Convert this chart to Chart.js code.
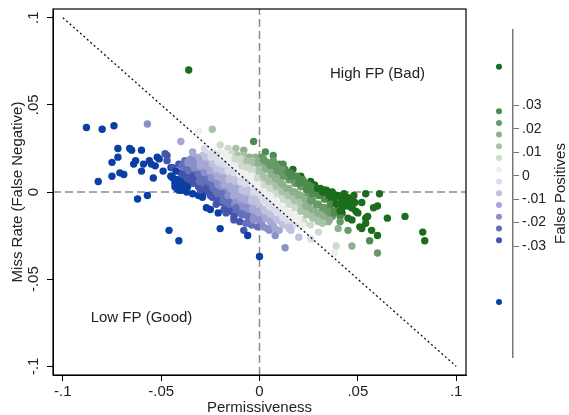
<!DOCTYPE html>
<html>
<head>
<meta charset="utf-8">
<script src="https://cdn.jsdelivr.net/npm/chart.js@4.4.1/dist/chart.umd.min.js"></script>
<style>
  body { margin: 0; background: #fff; }
  #wrap { position: relative; width: 569px; height: 415px; }
  #scatterChart { position: absolute; left: 0; top: 0; }
  #fpLegend { position: absolute; left: 470px; top: 0; }
</style>
</head>
<body>
<div id="wrap">
  <canvas id="scatterChart" width="470" height="415"></canvas>
  <canvas id="fpLegend" width="99" height="415"></canvas>
</div>
<script>
// each observation: [permissiveness, miss rate]
const obs = [
  // left tail
  [-0.088, 0.037], [-0.080, 0.036], [-0.074, 0.038], [-0.072, 0.025], [-0.066, 0.025], [-0.065, 0.024],
  [-0.060, 0.024], [-0.072, 0.020], [-0.075, 0.017], [-0.063, 0.018], [-0.064, 0.016], [-0.059, 0.016],
  [-0.056, 0.018], [-0.052, 0.020], [-0.051, 0.019], [-0.048, 0.022], [-0.047, 0.021], [-0.053, 0.015],
  [-0.055, 0.016], [-0.049, 0.012], [-0.060, 0.012], [-0.071, 0.011], [-0.069, 0.010], [-0.075, 0.009],
  [-0.054, 0.008], [-0.082, 0.006], [-0.045, 0.009], [-0.044, 0.008], [-0.043, 0.007], [-0.039, 0.005],
  [-0.042, 0.002], [-0.041, 0.001], [-0.034, -0.001], [-0.031, -0.002], [-0.062, -0.004], [-0.057, -0.002],
  [-0.046, -0.022], [-0.041, -0.028], [-0.047, 0.018], [-0.045, 0.014],
  // upper scatter
  [-0.024, 0.036], [-0.031, 0.035], [-0.040, 0.029], [-0.057, 0.039], [-0.003, 0.029], [-0.008, 0.024],
  [-0.020, 0.027], [-0.016, 0.025], [-0.012, 0.025], [-0.028, 0.025], [-0.034, 0.023], [0.003, 0.023],
  [0.007, 0.021], [0.012, 0.016], [0.017, 0.013], [0.026, 0.006], [0.021, 0.009], [-0.036, 0.070],
  // main band, left half
  [-0.044, 0.014], [-0.045, 0.009], [-0.043, 0.005],
  [-0.041, 0.016], [-0.040, 0.011], [-0.042, 0.007], [-0.041, 0.003],
  [-0.038, 0.018], [-0.037, 0.013], [-0.039, 0.009], [-0.038, 0.004], [-0.037, 0.000],
  [-0.035, 0.019], [-0.034, 0.015], [-0.036, 0.010], [-0.035, 0.006],
  [-0.032, 0.020], [-0.031, 0.016], [-0.033, 0.012], [-0.032, 0.007], [-0.031, 0.003],
  [-0.029, 0.021], [-0.028, 0.017], [-0.030, 0.013], [-0.029, 0.008], [-0.028, 0.004], [-0.029, -0.001],
  [-0.026, 0.022], [-0.025, 0.018], [-0.027, 0.014], [-0.026, 0.009], [-0.025, 0.005], [-0.026, 0.000],
  [-0.023, 0.022], [-0.022, 0.018], [-0.024, 0.014], [-0.023, 0.010], [-0.022, 0.006], [-0.023, 0.001], [-0.024, -0.003], [-0.022, -0.007],
  [-0.020, 0.023], [-0.019, 0.019], [-0.021, 0.015], [-0.020, 0.011], [-0.019, 0.007], [-0.020, 0.002], [-0.021, -0.002], [-0.019, -0.006],
  [-0.017, 0.022], [-0.016, 0.018], [-0.018, 0.014], [-0.017, 0.010], [-0.016, 0.006], [-0.017, 0.001], [-0.018, -0.003], [-0.016, -0.008],
  [-0.014, 0.022], [-0.013, 0.018], [-0.015, 0.014], [-0.014, 0.009], [-0.013, 0.005], [-0.014, 0.000], [-0.015, -0.004], [-0.013, -0.009],
  [-0.011, 0.021], [-0.010, 0.017], [-0.012, 0.013], [-0.011, 0.009], [-0.010, 0.004], [-0.011, 0.000], [-0.012, -0.005], [-0.010, -0.010],
  [-0.008, 0.021], [-0.007, 0.017], [-0.009, 0.012], [-0.008, 0.008], [-0.007, 0.003], [-0.008, -0.001], [-0.009, -0.006], [-0.007, -0.011],
  [-0.005, 0.020], [-0.004, 0.016], [-0.006, 0.012], [-0.005, 0.007], [-0.004, 0.003], [-0.005, -0.002], [-0.006, -0.007], [-0.004, -0.012],
  [-0.002, 0.020], [-0.001, 0.016], [-0.003, 0.011], [-0.002, 0.007], [-0.001, 0.002], [-0.002, -0.003], [-0.003, -0.008], [-0.001, -0.013],
  // main band, right half
  [0.001, 0.020], [0.002, 0.015], [0.000, 0.011], [0.001, 0.006], [0.002, 0.002], [0.001, -0.003], [0.000, -0.008], [0.002, -0.013], [0.001, -0.018],
  [0.004, 0.017], [0.005, 0.013], [0.003, 0.008], [0.004, 0.004], [0.005, -0.001], [0.004, -0.006], [0.003, -0.011], [0.005, -0.016],
  [0.007, 0.018], [0.008, 0.014], [0.006, 0.010], [0.007, 0.005], [0.008, 0.001], [0.007, -0.004], [0.006, -0.009], [0.008, -0.014], [0.007, -0.019],
  [0.010, 0.016], [0.011, 0.011], [0.009, 0.007], [0.010, 0.002], [0.011, -0.002], [0.010, -0.007], [0.009, -0.012], [0.011, -0.017],
  [0.013, 0.013], [0.014, 0.009], [0.012, 0.004], [0.013, 0.000], [0.014, -0.005], [0.013, -0.010], [0.012, -0.015],
  [0.016, 0.011], [0.017, 0.007], [0.015, 0.002], [0.016, -0.002], [0.017, -0.007], [0.016, -0.012], [0.015, -0.017],
  [0.019, 0.009], [0.020, 0.005], [0.018, 0.000], [0.019, -0.004], [0.020, -0.009], [0.019, -0.014],
  [0.022, 0.007], [0.023, 0.003], [0.021, -0.002], [0.022, -0.006], [0.023, -0.011], [0.022, -0.016],
  [0.025, 0.004], [0.026, 0.001], [0.024, -0.003], [0.025, -0.008], [0.026, -0.013],
  [0.028, 0.004], [0.029, 0.000], [0.027, -0.005], [0.028, -0.010], [0.029, -0.015],
  [0.031, 0.002], [0.032, -0.002], [0.030, -0.007], [0.031, -0.012],
  [0.034, 0.001], [0.035, -0.004], [0.033, -0.009], [0.034, -0.013],
  [0.037, 0.000], [0.038, -0.005], [0.036, -0.010], [0.037, -0.014],
  [0.040, -0.002], [0.041, -0.007], [0.039, -0.011],
  [0.043, -0.001], [0.044, -0.006], [0.042, -0.012],
  [0.046, -0.004], [0.047, -0.009],
  // main band, in-between points
  [-0.0425, 0.012], [-0.0420, 0.007], [-0.0430, 0.003],
  [-0.0395, 0.015], [-0.0390, 0.010], [-0.0400, 0.006], [-0.0395, 0.001],
  [-0.0365, 0.017], [-0.0360, 0.012], [-0.0370, 0.008], [-0.0365, 0.003],
  [-0.0335, 0.018], [-0.0330, 0.014], [-0.0340, 0.009], [-0.0335, 0.005],
  [-0.0305, 0.019], [-0.0300, 0.015], [-0.0310, 0.010], [-0.0305, 0.006], [-0.0300, 0.001],
  [-0.0275, 0.020], [-0.0270, 0.016], [-0.0280, 0.011], [-0.0275, 0.007], [-0.0270, 0.002],
  [-0.0245, 0.020], [-0.0240, 0.016], [-0.0250, 0.012], [-0.0245, 0.008], [-0.0240, 0.003], [-0.0250, -0.002],
  [-0.0215, 0.021], [-0.0210, 0.017], [-0.0220, 0.013], [-0.0215, 0.009], [-0.0210, 0.004], [-0.0220, 0.000], [-0.0215, -0.005],
  [-0.0185, 0.020], [-0.0180, 0.016], [-0.0190, 0.012], [-0.0185, 0.008], [-0.0180, 0.004], [-0.0190, -0.001], [-0.0185, -0.005], [-0.0180, -0.010],
  [-0.0155, 0.020], [-0.0150, 0.016], [-0.0160, 0.012], [-0.0155, 0.007], [-0.0150, 0.003], [-0.0160, -0.002], [-0.0155, -0.006], [-0.0150, -0.011],
  [-0.0125, 0.019], [-0.0120, 0.015], [-0.0130, 0.011], [-0.0125, 0.007], [-0.0120, 0.002], [-0.0130, -0.002], [-0.0125, -0.007], [-0.0120, -0.012], [-0.0130, -0.016],
  [-0.0095, 0.019], [-0.0090, 0.015], [-0.0100, 0.010], [-0.0095, 0.006], [-0.0090, 0.001], [-0.0100, -0.003], [-0.0095, -0.008], [-0.0090, -0.013], [-0.0100, -0.017],
  [-0.0065, 0.018], [-0.0060, 0.014], [-0.0070, 0.010], [-0.0065, 0.005], [-0.0060, 0.001], [-0.0070, -0.004], [-0.0065, -0.009], [-0.0060, -0.014], [-0.0070, -0.018],
  [-0.0035, 0.018], [-0.0030, 0.013], [-0.0040, 0.009], [-0.0035, 0.005], [-0.0030, 0.000], [-0.0040, -0.005], [-0.0035, -0.010], [-0.0030, -0.015], [-0.0040, -0.019],
  [-0.0005, 0.018], [0.0000, 0.013], [-0.0010, 0.008], [-0.0005, 0.004], [0.0000, -0.001], [-0.0010, -0.006], [-0.0005, -0.011], [0.0000, -0.016], [-0.0010, -0.020],
  [0.0025, 0.018], [0.0030, 0.013], [0.0020, 0.009], [0.0025, 0.004], [0.0030, 0.000], [0.0020, -0.005], [0.0025, -0.010], [0.0030, -0.015], [0.0020, -0.020],
  [0.0055, 0.015], [0.0060, 0.011], [0.0050, 0.006], [0.0055, 0.002], [0.0060, -0.003], [0.0050, -0.008], [0.0055, -0.013], [0.0060, -0.018], [0.0050, -0.022],
  [0.0085, 0.015], [0.0090, 0.012], [0.0080, 0.008], [0.0085, 0.003], [0.0090, -0.001], [0.0080, -0.006], [0.0085, -0.011], [0.0090, -0.016], [0.0080, -0.021],
  [0.0115, 0.013], [0.0120, 0.009], [0.0110, 0.005], [0.0115, 0.000], [0.0120, -0.004], [0.0110, -0.009], [0.0115, -0.014], [0.0120, -0.019],
  [0.0145, 0.011], [0.0150, 0.007], [0.0140, 0.002], [0.0145, -0.002], [0.0150, -0.007], [0.0140, -0.012], [0.0145, -0.017], [0.0150, -0.021],
  [0.0175, 0.009], [0.0180, 0.005], [0.0170, 0.000], [0.0175, -0.004], [0.0180, -0.009], [0.0170, -0.014], [0.0175, -0.019],
  [0.0205, 0.007], [0.0210, 0.003], [0.0200, -0.002], [0.0205, -0.006], [0.0210, -0.011], [0.0200, -0.016], [0.0205, -0.020],
  [0.0235, 0.005], [0.0240, 0.001], [0.0230, -0.004], [0.0235, -0.008], [0.0240, -0.013], [0.0230, -0.018],
  [0.0265, 0.003], [0.0270, -0.001], [0.0260, -0.005], [0.0265, -0.010], [0.0270, -0.015], [0.0260, -0.019],
  [0.0295, 0.002], [0.0300, -0.002], [0.0290, -0.007], [0.0295, -0.012], [0.0300, -0.017],
  [0.0325, 0.001], [0.0330, -0.004], [0.0320, -0.009], [0.0325, -0.014],
  [0.0355, -0.002], [0.0360, -0.007], [0.0350, -0.011], [0.0355, -0.016],
  [0.0385, -0.002], [0.0390, -0.007], [0.0380, -0.012],
  [0.0415, -0.003], [0.0420, -0.009], [0.0410, -0.014],
  [0.0445, -0.003], [0.0450, -0.008],
  [0.0485, -0.006], [0.0490, -0.011],
  // lower scatter
  [-0.027, -0.009], [-0.021, -0.012], [-0.017, -0.012], [-0.013, -0.014], [-0.008, -0.022], [-0.006, -0.025],
  [-0.005, -0.018], [-0.020, -0.021], [0.000, -0.037], [-0.029, -0.003], [-0.012, -0.009], [-0.008, -0.013],
  [0.002, -0.020], [0.004, -0.021], [0.015, -0.020], [0.030, -0.023], [-0.003, -0.016], [0.026, -0.027],
  [0.013, -0.032], [0.039, -0.031], [0.038, -0.035], [0.016, -0.022], [0.022, -0.019], [0.008, -0.025],
  [0.020, -0.026], [-0.025, -0.010], [0.010, -0.022],
  // right tail
  [0.033, 0.001], [0.048, -0.002], [0.054, -0.001], [0.061, -0.001], [0.042, -0.005], [0.045, -0.006],
  [0.052, -0.006], [0.043, -0.008], [0.041, -0.011], [0.047, -0.009], [0.058, -0.009], [0.060, -0.008],
  [0.050, -0.012], [0.045, -0.015], [0.047, -0.016], [0.054, -0.015], [0.055, -0.014], [0.065, -0.015],
  [0.074, -0.014], [0.051, -0.020], [0.052, -0.021], [0.057, -0.022], [0.060, -0.025], [0.054, -0.018],
  [0.083, -0.023], [0.084, -0.028], [0.056, -0.028], [0.047, -0.031], [0.060, -0.035], [0.045, -0.022],
  [0.040, -0.021], [0.032, 0.000], [0.035, 0.000], [0.020, 0.005], [0.016, 0.009], [0.009, 0.012],
  [0.002, 0.019], [0.035, -0.017], [0.041, -0.017], [0.032, -0.018]
];

const xTicks = [-0.1, -0.05, 0, 0.05, 0.1];
const yTicks = [-0.1, -0.05, 0, 0.05, 0.1];
const fpTicks = [-0.03, -0.02, -0.01, 0, 0.01, 0.02, 0.03];

// false positives binned in steps of .005 between -.03 and .03
const fpBins = [-0.0275, -0.0225, -0.0175, -0.0125, -0.0075, -0.0025, 0.0025, 0.0075, 0.0125, 0.0175, 0.0225, 0.0275];
const fpColors = ['#4455ae', '#6570bb', '#8b91c8', '#a4a8d4', '#c0c1de', '#dadbeb', '#efefef',
                  '#cddacd', '#a9c3a9', '#8fb08f', '#679a67', '#4f8a4f'];
// open-ended bins: above .03 and below -.03
const fpOutside = [0.0464, -0.0539];
const fpOutsideColors = ['#1b6c1b', '#0b3fa3'];

const notes = [
  { text: 'High FP (Bad)', x: 0.06, y: 0.068 },
  { text: 'Low FP (Good)', x: -0.06, y: -0.072 }
];

Chart.defaults.font.family = "'Liberation Sans', Arial, Helvetica, sans-serif";
Chart.defaults.font.size = 15;
Chart.defaults.color = '#222';

// Stata style labels: .05 instead of 0.05
function fmt(v) {
  return String(v).replace(/^(-?)0\./, '$1.');
}

function fpColor(v) {
  if (v >= 0.03) return fpOutsideColors[0];
  if (v < -0.03) return fpOutsideColors[1];
  const i = Math.min(fpBins.length - 1, Math.max(0, Math.floor((v + 0.03) / 0.005)));
  return fpColors[i];
}

const points = obs.map(([x, y]) => ({ x: x, y: y }));

const framePlugin = {
  id: 'frame',
  afterDraw(chart) {
    const { ctx, chartArea: a, scales } = chart;
    ctx.save();
    ctx.strokeStyle = '#000';
    ctx.lineWidth = 1.2;
    ctx.strokeRect(a.left, a.top, a.right - a.left, a.bottom - a.top);
    ctx.fillStyle = '#222';
    ctx.font = "15px 'Liberation Sans', Arial, sans-serif";
    ctx.textAlign = 'center';
    ctx.textBaseline = 'middle';
    notes.forEach(n => {
      ctx.fillText(n.text, scales.x.getPixelForValue(n.x), scales.y.getPixelForValue(n.y));
    });
    ctx.restore();
  }
};

new Chart(document.getElementById('scatterChart'), {
  type: 'scatter',
  data: {
    datasets: [
      {
        // 45 degree line where false positives are zero
        type: 'line',
        data: [{ x: -0.1, y: 0.1 }, { x: 0.1, y: -0.1 }],
        borderColor: '#111',
        borderWidth: 1.3,
        borderDash: [2, 2.6],
        pointRadius: 0,
        order: 0
      },
      {
        data: points,
        pointBackgroundColor: points.map(p => fpColor(p.x + p.y)),
        pointBorderWidth: 0,
        pointRadius: 3.7,
        order: 1
      },
      {
        type: 'line',
        data: [{ x: 0, y: -0.105 }, { x: 0, y: 0.105 }],
        borderColor: '#8c8c8c',
        borderWidth: 1.5,
        borderDash: [8, 4],
        pointRadius: 0,
        order: 2
      },
      {
        type: 'line',
        data: [{ x: -0.105, y: 0 }, { x: 0.105, y: 0 }],
        borderColor: '#8c8c8c',
        borderWidth: 1.5,
        borderDash: [8, 4],
        pointRadius: 0,
        order: 2
      }
    ]
  },
  options: {
    responsive: false,
    animation: false,
    layout: { padding: { top: 9, right: 4, left: 0, bottom: 0 } },
    plugins: { legend: { display: false }, tooltip: { enabled: false } },
    scales: {
      x: {
        type: 'linear',
        min: -0.105,
        max: 0.105,
        afterBuildTicks: s => { s.ticks = xTicks.map(v => ({ value: v })); },
        afterFit: s => { s.height = 40; },
        grid: { drawOnChartArea: false, tickLength: 6, color: '#000' },
        border: { color: '#000', width: 1 },
        ticks: { callback: fmt, padding: 2, maxRotation: 0 },
        title: { display: true, text: 'Permissiveness', padding: 0, font: { size: 15, lineHeight: 1 } }
      },
      y: {
        type: 'linear',
        min: -0.105,
        max: 0.105,
        afterBuildTicks: s => { s.ticks = yTicks.map(v => ({ value: v })); },
        afterFit: s => { s.width = 53; },
        grid: { drawOnChartArea: false, tickLength: 6, color: '#000' },
        border: { color: '#000', width: 1 },
        ticks: { callback: fmt, minRotation: 90, maxRotation: 90, crossAlign: 'center', padding: 0 },
        title: { display: true, text: 'Miss Rate (False Negative)', padding: { top: 9, bottom: 0 } }
      }
    }
  },
  plugins: [framePlugin]
});

// colour key on the right
const keyTitle = {
  id: 'keyTitle',
  afterDraw(chart) {
    const s = chart.scales.y;
    const ctx = chart.ctx;
    ctx.save();
    ctx.translate(s.right - 8, (s.top + s.bottom) / 2);
    ctx.rotate(-Math.PI / 2);
    ctx.fillStyle = '#222';
    ctx.font = "15px 'Liberation Sans', Arial, sans-serif";
    ctx.textAlign = 'center';
    ctx.textBaseline = 'middle';
    ctx.fillText('False Positives', 0, 0);
    ctx.restore();
  }
};

new Chart(document.getElementById('fpLegend'), {
  type: 'scatter',
  data: {
    datasets: [{
      data: fpBins.concat(fpOutside).map(v => ({ x: 0.5, y: v })),
      pointBackgroundColor: fpColors.concat(fpOutsideColors),
      pointBorderWidth: 0,
      pointRadius: 3
    }]
  },
  options: {
    responsive: false,
    animation: false,
    layout: { padding: { top: 30, bottom: 58, left: 15, right: 0 } },
    plugins: { legend: { display: false }, tooltip: { enabled: false } },
    scales: {
      x: { type: 'linear', min: 0, max: 1, display: false },
      y: {
        type: 'linear',
        position: 'right',
        min: -0.0773,
        max: 0.0621,
        afterBuildTicks: s => { s.ticks = fpTicks.map(v => ({ value: v })); },
        afterFit: s => { s.width = 56; },
        grid: { drawOnChartArea: false, tickLength: 6, color: '#777' },
        border: { color: '#777', width: 1.5 },
        ticks: { callback: fmt, padding: 3, font: { size: 14 } }
      }
    }
  },
  plugins: [keyTitle]
});
</script>
</body>
</html>
